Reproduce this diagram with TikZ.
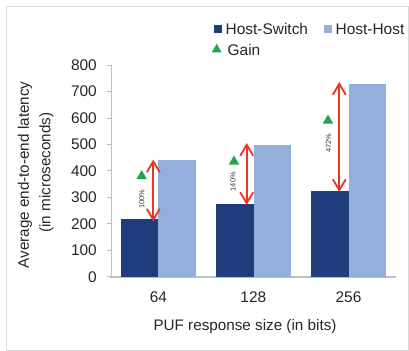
\documentclass[tikz,border=0pt]{standalone}
\usepackage{fontspec}
\setmainfont{Liberation Sans}
\usetikzlibrary{arrows.meta,shapes.geometric}
\definecolor{hsblue}{RGB}{31,61,124}
\definecolor{hhblue}{RGB}{146,176,219}
\definecolor{gaingreen}{RGB}{32,166,72}
\definecolor{gainred}{RGB}{234,52,38}
\definecolor{axisgray}{RGB}{191,191,191}
\definecolor{framegray}{RGB}{217,217,217}
\definecolor{textgray}{RGB}{38,38,38}
\tikzset{
  bar/.style={rectangle, inner sep=0pt, minimum width=37.5bp, anchor=south, outer sep=0pt},
  hsbar/.style={bar, fill=hsblue},
  hhbar/.style={bar, fill=hhblue},
  ticklab/.style={anchor=east, inner sep=0pt, font=\fontsize{15.5}{18}\selectfont, text=textgray},
  catlab/.style={inner sep=0pt, font=\fontsize{15.5}{18}\selectfont, text=textgray},
  titlelab/.style={inner sep=0pt, font=\fontsize{15.3}{18}\selectfont, text=textgray},
  pctlab/.style={inner sep=0pt, rotate=90, font=\fontsize{7.5}{9}\selectfont, text=textgray!90},
  gainmark/.style={regular polygon, regular polygon sides=3, fill=gaingreen, inner sep=0pt, minimum size=12bp},
  gainarrow/.style={gainred, line width=1.8bp, {Straight Barb[length=11bp,width=13bp]}-{Straight Barb[length=11bp,width=13bp]}},
  legsq/.style={rectangle, inner sep=0pt, minimum size=7.5bp},
  leglab/.style={anchor=west, inner sep=0pt, font=\fontsize{15.5}{18}\selectfont, text=textgray}
}
\begin{document}
\begin{tikzpicture}[x=1bp, y=-1bp]
\useasboundingbox (0,0) rectangle (409,351);
% chart frame
\draw[framegray, line width=1bp] (6,6) rectangle (408,350);

% value axis with ticks and labels (0 at y=276.7, 100 units = 26.46)
\draw[axisgray, line width=1bp] (111,65) -- (111,276.7);
\foreach \v [count=\i from 0] in {0,100,...,800} {
  \draw[axisgray, line width=0.8bp] (106.5,276.7-\i*26.46) -- (111,276.7-\i*26.46);
  \node[ticklab] (yl\i) at (97,276.7-\i*26.46) {\v};
}
% category axis
\draw[axisgray, line width=1.6bp] (110,277) -- (396,277);

% bars
\node[hsbar, minimum height=58bp] (hs1) at (139.75,276.7) {};
\node[hhbar, minimum height=116.7bp] (hh1) at (177.25,276.7) {};
\node[hsbar, minimum height=72.4bp] (hs2) at (234.75,276.7) {};
\node[hhbar, minimum height=131.7bp] (hh2) at (272.25,276.7) {};
\node[hsbar, minimum height=85.7bp] (hs3) at (329.75,276.7) {};
\node[hhbar, minimum height=192.7bp] (hh3) at (367.25,276.7) {};

% gain arrows between bar tops
\coordinate (g1t) at (153.3,159.5);
\coordinate (g1b) at (153.3,221.5);
\coordinate (g2t) at (246.7,143);
\coordinate (g2b) at (246.7,205);
\coordinate (g3t) at (339.3,82);
\coordinate (g3b) at (339.3,192);
\draw[gainarrow] (g1t) -- (g1b);
\draw[gainarrow] (g2t) -- (g2b);
\draw[gainarrow] (g3t) -- (g3b);

% gain markers and percentages
\node[gainmark] (m1) at (141.7,176) {};
\node[gainmark] (m2) at (234,161.5) {};
\node[gainmark] (m3) at (328,120.5) {};
\node[pctlab] (p1) at (141.7,199.3) {100\%};
\node[pctlab] (p2) at (233,181.7) {140\%};
\node[pctlab] (p3) at (328.5,143.3) {472\%};

% category labels and axis titles
\node[catlab] (c1) at (158.5,296.7) {64};
\node[catlab] (c2) at (253.3,296.7) {128};
\node[catlab] (c3) at (348.5,296.7) {256};
\node[titlelab] (xt) at (245,326.7) {PUF response size (in bits)};
\node[titlelab, rotate=90] (yt1) at (25,175) {Average end-to-end latency};
\node[titlelab, rotate=90] (yt2) at (46.5,172.5) {(in microseconds)};

% legend
\node[legsq, fill=hsblue] (k1) at (218,29) {};
\node[leglab] (l1) at (225.5,29) {Host-Switch};
\node[legsq, fill=hhblue] (k2) at (328,29) {};
\node[leglab] (l2) at (335.5,29) {Host-Host};
\node[gainmark, minimum size=11.5bp] (k3) at (216.7,49.5) {};
\node[leglab] (l3) at (227.5,50) {Gain};
\end{tikzpicture}
\end{document}
